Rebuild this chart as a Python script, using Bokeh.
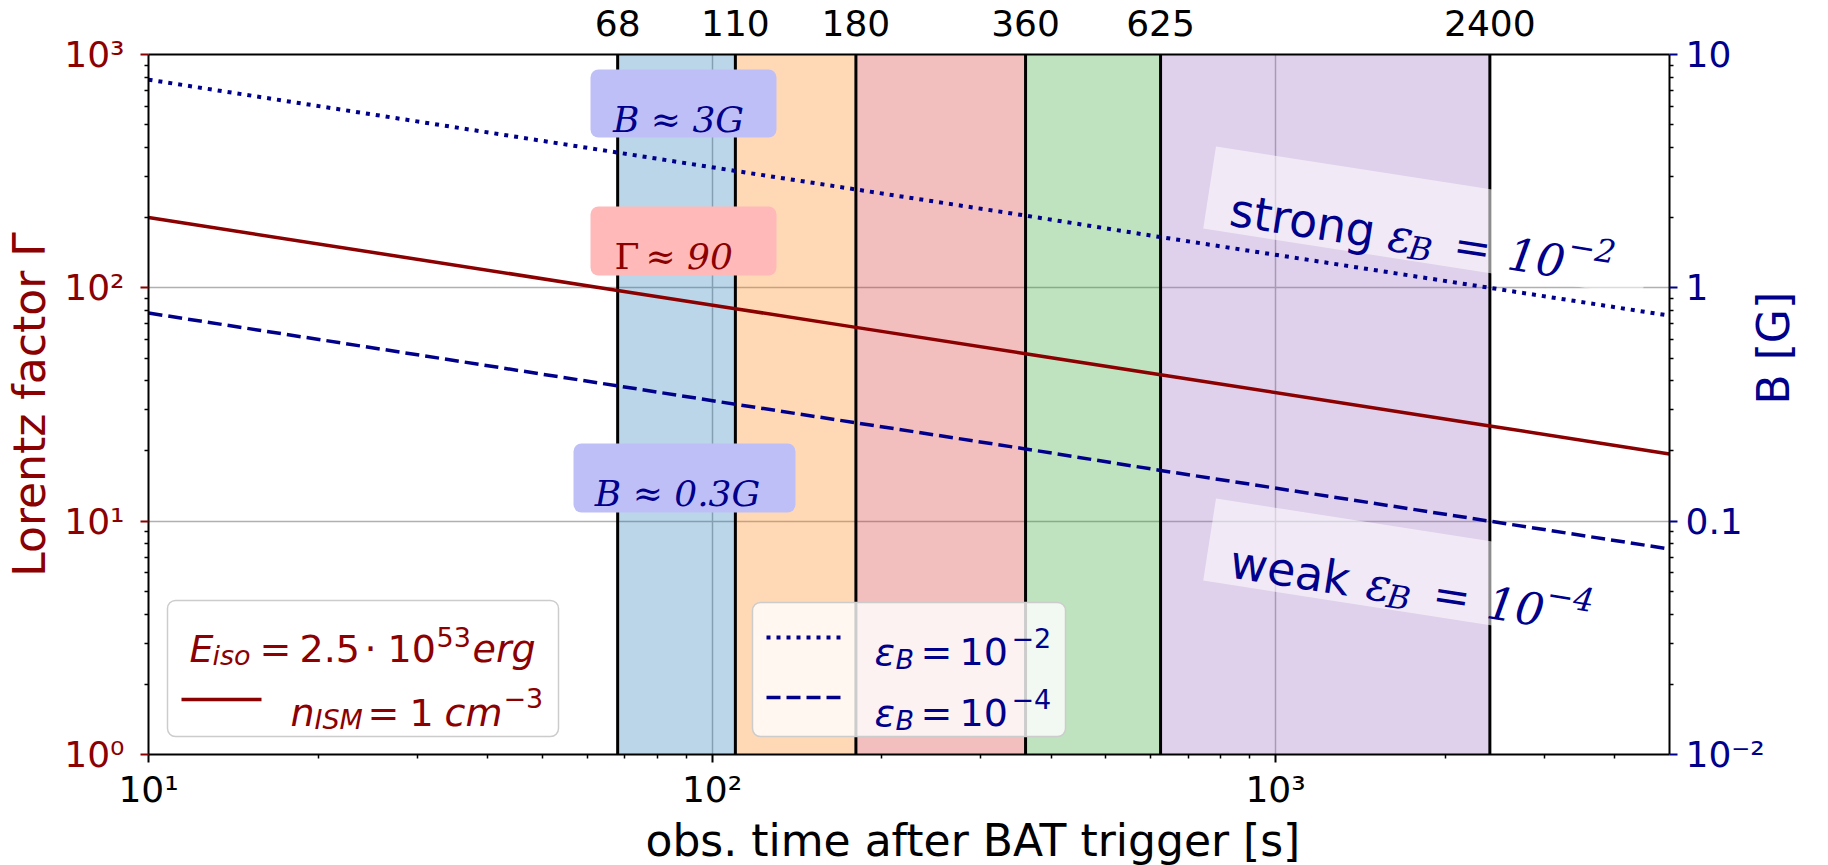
import math

from bokeh.embed import file_html
from bokeh.models import (Arrow, BoxAnnotation, FixedTicker, Label, LogAxis,
                          LogScale, PolyAnnotation, Range1d, Title)
from bokeh.plotting import figure
from bokeh.resources import INLINE

# ---- data ---------------------------------------------------------------
# afterglow model sampled at the plot limits and at the band edges
t_obs = [10, 68, 110, 180, 360, 625, 2400, 5000]
gamma = [200, 97.5, 81.4, 67.7, 52.2, 42.4, 25.6, 19.4]
b_strong = [7.8, 3.8, 3.17, 2.64, 2.04, 1.65, 1.0, 0.76]      # eps_B = 1e-2
b_weak = [0.78, 0.38, 0.317, 0.264, 0.204, 0.165, 0.10, 0.076]  # eps_B = 1e-4

# observation windows
band_edges = [68, 110, 180, 360, 625, 2400]
band_colors = ["#1f77b4", "#ff7f0e", "#d62728", "#2ca02c", "#9467bd"]
band_labels = ["68", "110", "180", "360", "625", "2400"]

# ticks
x_major = [10, 100, 1000]
x_major_labels = ["10\u00b9", "10\u00b2", "10\u00b3"]
x_minor = [20, 30, 40, 50, 60, 70, 80, 90, 200, 300, 400, 500, 600, 700, 800, 900,
           2000, 3000, 4000]
g_major = [1, 10, 100, 1000]
g_major_labels = ["10\u2070", "10\u00b9", "10\u00b2", "10\u00b3"]
g_minor = [2, 3, 4, 5, 6, 7, 8, 9, 20, 30, 40, 50, 60, 70, 80, 90,
           200, 300, 400, 500, 600, 700, 800, 900]
b_major = [0.01, 0.1, 1, 10]
b_major_labels = ["10\u207b\u00b2", "0.1", "1", "10"]
b_minor = [0.02, 0.03, 0.04, 0.05, 0.06, 0.07, 0.08, 0.09,
           0.2, 0.3, 0.4, 0.5, 0.6, 0.7, 0.8, 0.9, 2, 3, 4, 5, 6, 7, 8, 9]

DARKRED = "#8b0000"
NAVY = "#00008b"
SANS = "DejaVu Sans"
SERIF = "DejaVu Serif"

# ---- frame geometry (canvas pixels) ----------------------------------------
W, H = 1828, 865
FL, FR, FT, FB = 148, 1669, 54, 755

p = figure(width=W, height=H, x_axis_type="log", y_axis_type="log",
           x_range=Range1d(10, 5000), y_range=Range1d(1, 1000),
           output_backend="svg", toolbar_location=None,
           min_border_left=FL, min_border_right=W - FR,
           min_border_top=FT, min_border_bottom=H - FB)
p.outline_line_color = None
p.background_fill_color = "white"
p.border_fill_color = "white"

p.extra_y_ranges = {"B": Range1d(0.01, 10)}
p.extra_y_scales = {"B": LogScale()}


def style_axis(ax, ticks, minor, labels, color, tick_color, out=8, minor_out=4, standoff=8):
    ax.ticker = FixedTicker(ticks=ticks, minor_ticks=minor)
    ax.major_label_overrides = dict(zip(ticks, labels))
    ax.axis_line_color = "black"
    ax.axis_line_width = 2
    ax.major_tick_in = 0
    ax.major_tick_out = out
    ax.minor_tick_in = 0
    ax.minor_tick_out = minor_out
    ax.major_tick_line_color = tick_color
    ax.major_tick_line_width = 2
    ax.minor_tick_line_color = "black"
    ax.minor_tick_line_width = 1.5
    ax.major_label_text_font = SANS
    ax.major_label_text_font_size = "36px"
    ax.major_label_text_color = color
    ax.major_label_standoff = standoff
    ax.axis_label_text_font = SANS
    ax.axis_label_text_font_size = "44px"
    ax.axis_label_text_font_style = "normal"


xax = p.xaxis[0]
style_axis(xax, x_major, x_minor, x_major_labels, "black", "black", standoff=6)

left = p.yaxis[0]
style_axis(left, g_major, g_minor, g_major_labels, DARKRED, DARKRED, standoff=16)
left.axis_label = "Lorentz factor \u0393"
left.axis_label_text_color = DARKRED
left.axis_label_standoff = 6

right = LogAxis(y_range_name="B")
p.add_layout(right, "right")
style_axis(right, b_major, b_minor, b_major_labels, NAVY, NAVY)
right.axis_label = "B [G]"
right.axis_label_text_color = NAVY
right.axis_label_standoff = 6
right.axis_label_orientation = math.pi / 2

top = LogAxis()
p.add_layout(top, "above")
style_axis(top, band_edges, [], band_labels, "black", "black", out=0, minor_out=0, standoff=19)

# x-axis title, set slightly right of the frame centre
p.add_layout(Title(text="obs. time after BAT trigger [s]", align="left", offset=497,
                   standoff=0, text_font=SANS, text_font_size="44px",
                   text_font_style="normal", text_color="black"), "below")

p.xgrid.ticker = FixedTicker(ticks=[100, 1000])
p.ygrid.ticker = FixedTicker(ticks=[10, 100])
for g in (p.xgrid[0], p.ygrid[0]):
    g.grid_line_color = "#b0b0b0"
    g.grid_line_width = 1.5
    g.minor_grid_line_color = None

# ---- marks ------------------------------------------------------------------
p.quad(left=band_edges[:-1], right=band_edges[1:], bottom=1, top=1000,
       fill_color=band_colors, fill_alpha=0.3, line_color=None)
p.segment(x0=band_edges, x1=band_edges, y0=1, y1=1000, line_color="black", line_width=3)

p.line(t_obs, gamma, line_color=DARKRED, line_width=3.5)
p.line(t_obs, b_strong, y_range_name="B", line_color=NAVY, line_width=4, line_dash="4 6")
p.line(t_obs, b_weak, y_range_name="B", line_color=NAVY, line_width=3.5, line_dash="14 6")


# ---- text helpers (canvas pixel positions, y downwards) ----------------------
def put(text, px, py, size, color, font=SANS, style="normal", angle=0.0,
        align="left", baseline="alphabetic"):
    p.add_layout(Label(x=px - FL, y=FB - py, x_units="screen", y_units="screen",
                       text=text, text_font=font, text_font_size=f"{size}px",
                       text_font_style=style, text_color=color, angle=angle,
                       text_align=align, text_baseline=baseline))


def box(x0, y0, x1, y1, fill, alpha=1.0, line=None, radius=8):
    p.add_layout(BoxAnnotation(left=x0 - FL, right=x1 - FL, top=FB - y0, bottom=FB - y1,
                               left_units="screen", right_units="screen",
                               top_units="screen", bottom_units="screen",
                               fill_color=fill, fill_alpha=alpha,
                               line_color=line, line_width=1.5, line_alpha=1.0,
                               border_radius=radius))


def handle(x0, x1, y, color, width, dash="solid"):
    p.add_layout(Arrow(x_start=x0 - FL, y_start=FB - y, x_end=x1 - FL, y_end=FB - y,
                       start_units="screen", end_units="screen", end=None,
                       line_color=color, line_width=width, line_dash=dash))


# value call-outs
box(590, 70, 776, 138, "#bfbff8")
put("B \u2248 3G", 678, 120, 36, NAVY, font=SERIF, style="italic", align="center")
box(590, 207, 776, 276, "#ffb9b9")
put("\u0393", 614, 257, 36, DARKRED, font=SERIF)
put("\u2248 90", 645, 257, 36, DARKRED, font=SERIF, style="italic")
box(573, 444, 795, 513, "#bfbff8")
put("B \u2248 0.3G", 677, 494, 36, NAVY, font=SERIF, style="italic", align="center")

# rotated labels along the B curves
theta = math.atan(0.1555)
ct, st = math.cos(theta), math.sin(theta)


def along(origin, u, v):
    return origin[0] + u * ct + v * st, origin[1] + u * st - v * ct


def slanted(origin, word, pieces):
    corners = [along(origin, u, v) for u, v in ((-24, -23), (420, -23), (420, 60), (-24, 60))]
    p.add_layout(PolyAnnotation(xs=[c[0] - FL for c in corners], ys=[FB - c[1] for c in corners],
                                xs_units="screen", ys_units="screen",
                                fill_color="white", fill_alpha=0.55, line_color=None))
    put(word, origin[0], origin[1], 46, NAVY, angle=-theta)
    for text, u, v, size, font, style in pieces:
        x, y = along(origin, u, v)
        put(text, x, y, size, NAVY, font=font, style=style, angle=-theta)


slanted((1230, 210), "strong", [
    ("\u03b5", 160, 0, 46, SERIF, "italic"),
    ("B", 182, -10, 32, SERIF, "italic"),
    ("=", 226, 0, 45, SERIF, "normal"),
    ("10", 281, 0, 45, SERIF, "italic"),
    ("\u22122", 340, 17, 32, SERIF, "italic"),
])
slanted((1230, 562), "weak", [
    ("\u03b5", 138, 0, 46, SERIF, "italic"),
    ("B", 160, -10, 32, SERIF, "italic"),
    ("=", 205, 0, 45, SERIF, "normal"),
    ("10", 260, 0, 45, SERIF, "italic"),
    ("\u22124", 318, 17, 32, SERIF, "italic"),
])

# legend: blast-wave parameters
box(167, 601, 558, 737, "white", alpha=0.8, line="#cccccc")
put("E", 189, 649, 38, DARKRED, style="italic")
put("iso", 212, 656, 27, DARKRED, style="italic")
put("=", 259, 649, 38, DARKRED)
put("2.5", 299, 649, 38, DARKRED)
put("\u00b7", 364, 649, 38, DARKRED)
put("10", 387, 649, 38, DARKRED)
put("53", 436, 637, 27, DARKRED)
put("erg", 472, 649, 38, DARKRED, style="italic")
handle(181, 261, 700, DARKRED, 3.5)
put("n", 290, 713, 38, DARKRED, style="italic")
put("ISM", 314, 720, 27, DARKRED, style="italic")
put("=", 367, 713, 38, DARKRED)
put("1", 409, 713, 38, DARKRED)
put("cm", 444, 713, 38, DARKRED, style="italic")
put("\u22123", 503, 698, 27, DARKRED)

# legend: magnetisation
box(752, 603, 1065, 737, "white", alpha=0.8, line="#cccccc")
handle(766, 843, 638, NAVY, 4, "4 6")
handle(766, 843, 698, NAVY, 3.5, "14 6")
for base, exp in ((652, "\u22122"), (713, "\u22124")):
    put("\u03b5", 874, base, 38, NAVY, style="italic")
    put("B", 895, base + 8, 27, NAVY, style="italic")
    put("=", 920, base, 38, NAVY)
    put("10", 959, base, 38, NAVY)
    put(exp, 1011, base - 14, 27, NAVY)

open("out.html", "w").write(file_html(p, INLINE))
